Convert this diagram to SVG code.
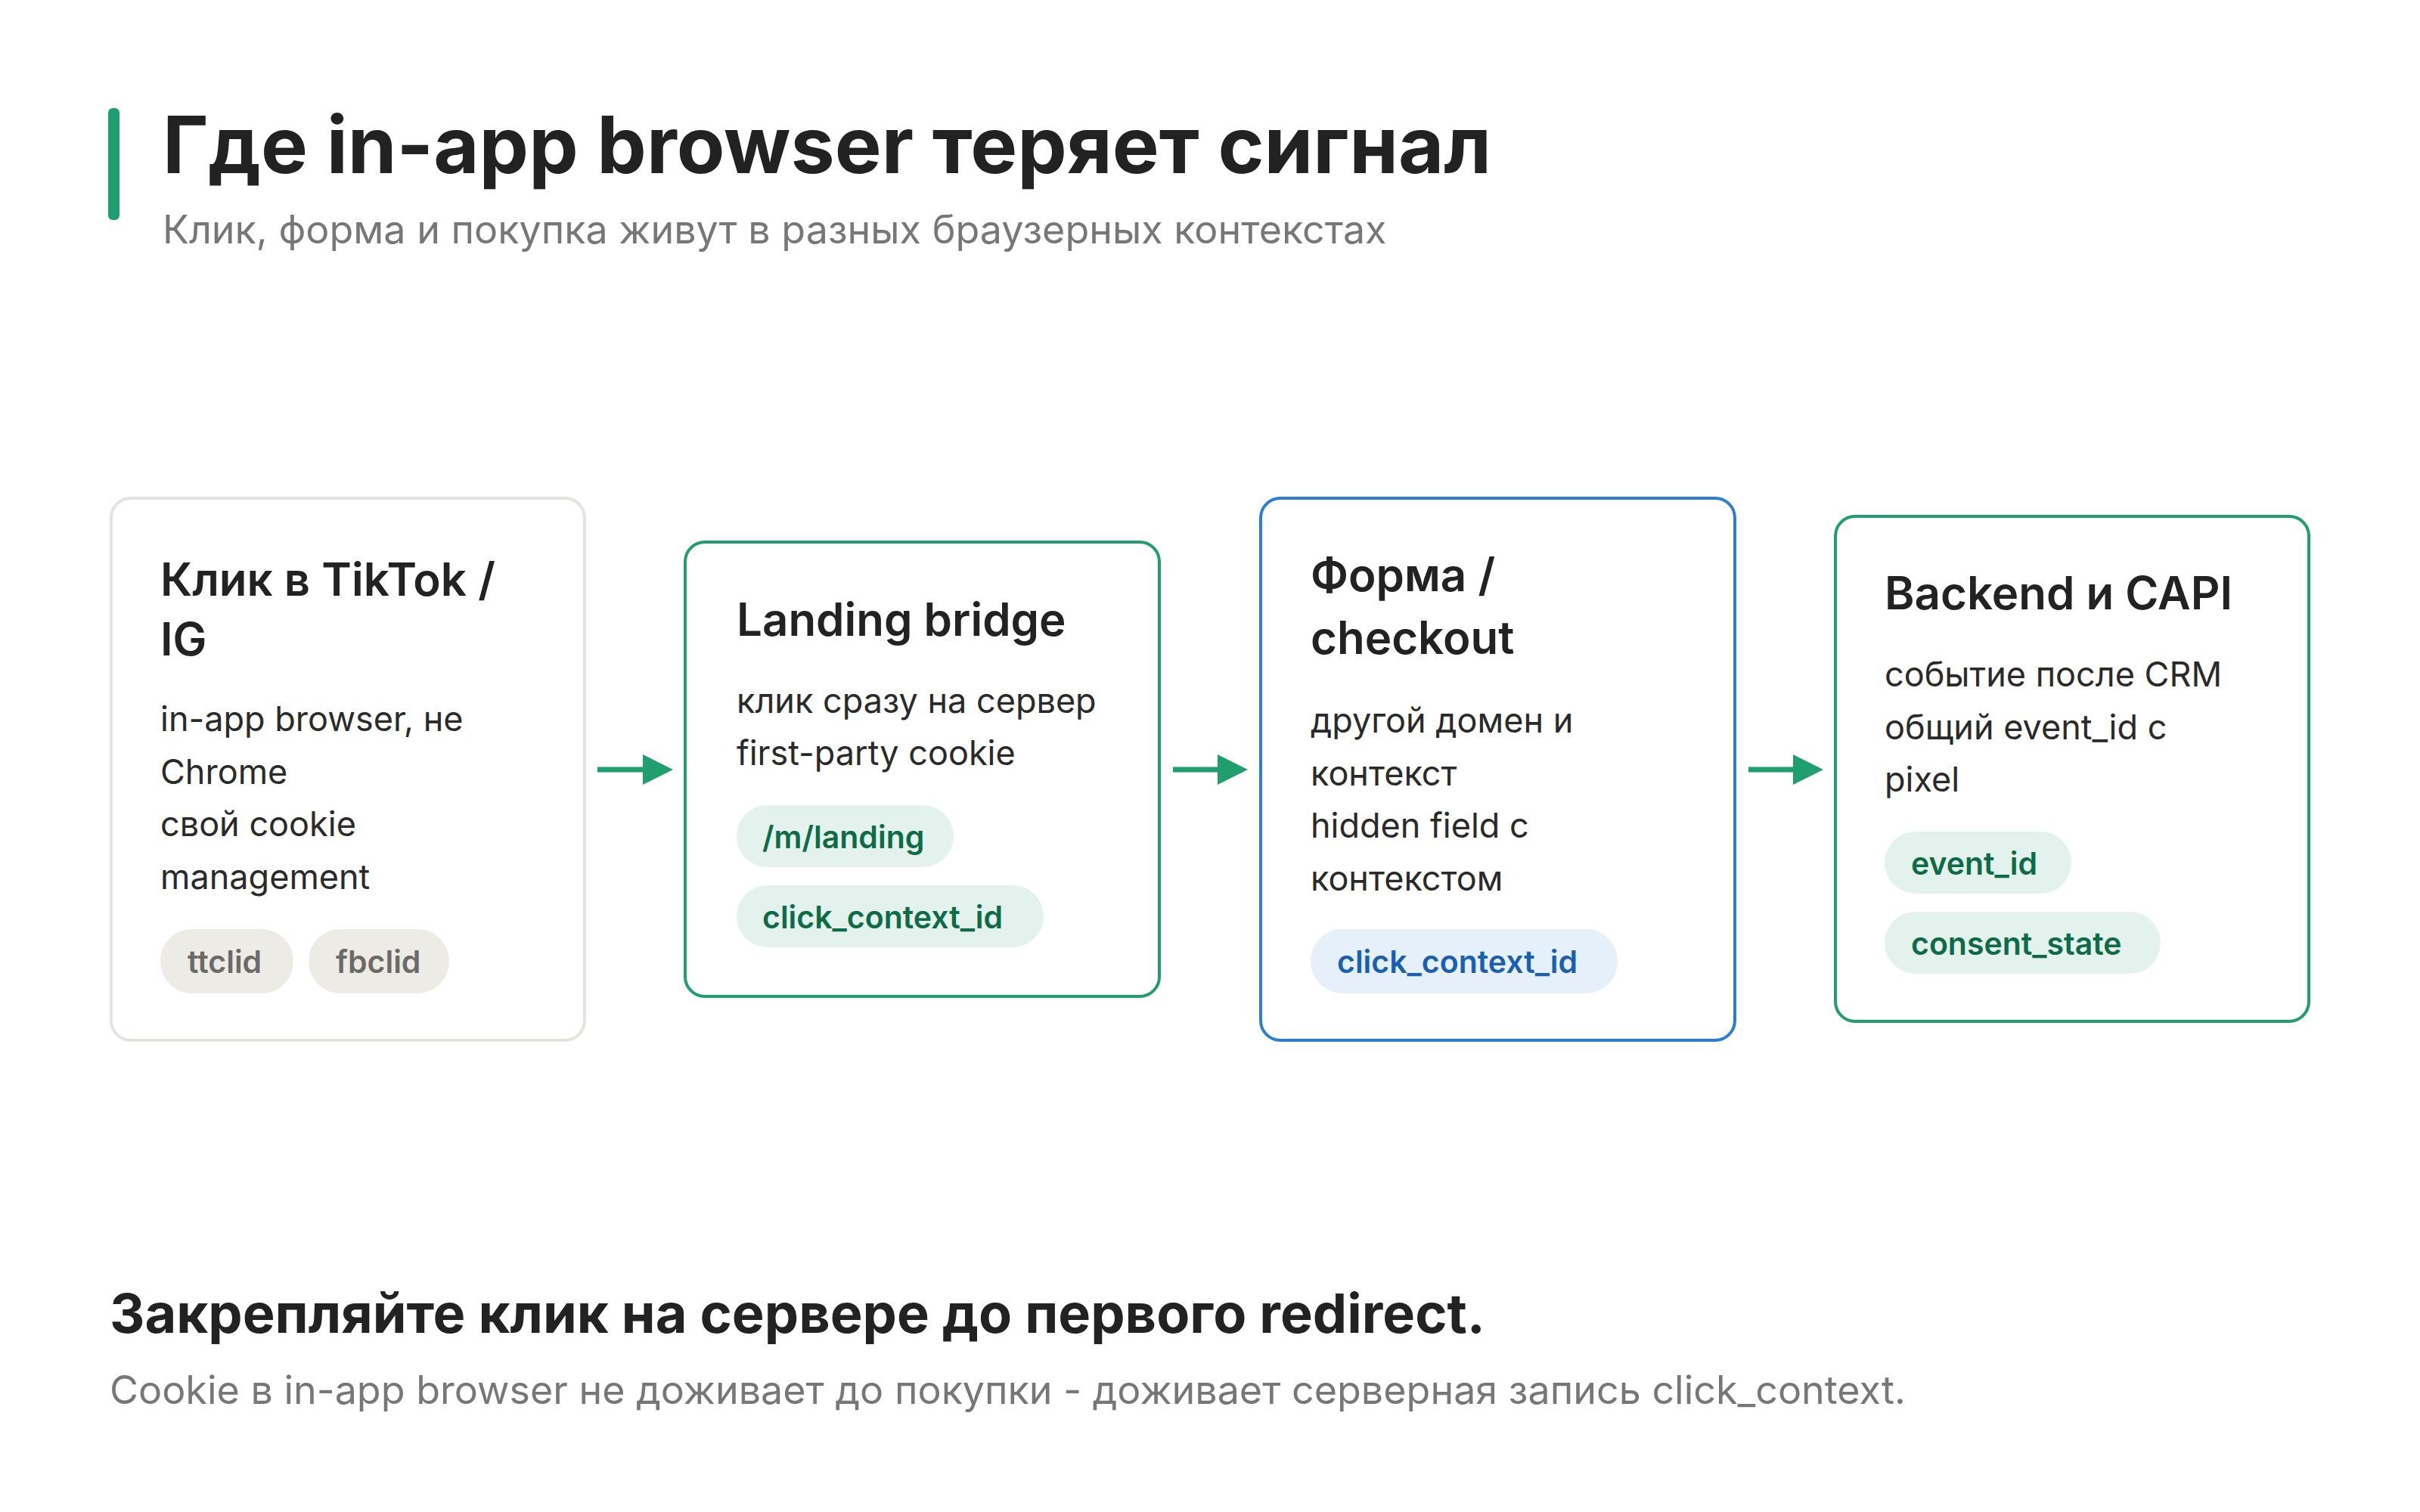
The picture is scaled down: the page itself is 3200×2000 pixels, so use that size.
<svg xmlns="http://www.w3.org/2000/svg" width="3200" height="2000" viewBox="0 0 3200 2000">
<style>
text{font-family:Inter,"Noto Sans",sans-serif}
.t{font-size:60px;font-weight:600;fill:#222}
.b{font-size:45px;fill:#2a2a2a}
.p{font-size:41px;font-weight:600}
.g{fill:#e3f2ec}.gt{fill:#0d6b46}
.bl{fill:#e6f0fb}.blt{fill:#1b5fb0}
.n{fill:#ecebe5}.nt{fill:#6b6a64}
.card{fill:#fff;stroke-width:4}
</style>
<defs><marker id="a" markerWidth="10" markerHeight="10" refX="8" refY="5" orient="auto" markerUnits="userSpaceOnUse" viewBox="0 0 10 10"><path d="M0,0L10,5L0,10z" fill="#1f9e6e"/></marker></defs>
<rect width="3200" height="2000" fill="#fff"/>
<rect x="143" y="143" width="15" height="148" rx="6" fill="#1f9e6e"/>
<text x="215" y="229" font-size="104" font-weight="700" fill="#222">Где in-app browser теряет сигнал</text>
<text x="215" y="322" font-size="52" fill="#777">Клик, форма и покупка живут в разных браузерных контекстах</text>
<g id="connectors" stroke="#1f9e6e" stroke-width="7" fill="none">
<path d="M790 1018H852"/><path d="M1551 1018H1612"/><path d="M2312 1018H2373"/>
<path d="M850 998L890 1018L850 1038z" fill="#1f9e6e" stroke="none"/>
<path d="M1610 998L1650 1018L1610 1038z" fill="#1f9e6e" stroke="none"/>
<path d="M2371 998L2411 1018L2371 1038z" fill="#1f9e6e" stroke="none"/>
</g>
<g id="n1">
<rect class="card" x="147" y="659" width="626" height="717" rx="26" stroke="#e6e3dc"/>
<text class="t" x="212" y="788">Клик в TikTok /</text><text class="t" x="212" y="867">IG</text>
<text class="b" x="212" y="967">in-app browser, не</text><text class="b" x="212" y="1037">Chrome</text><text class="b" x="212" y="1106">свой cookie</text><text class="b" x="212" y="1176">management</text>
<rect class="n" x="212" y="1229" width="176" height="85" rx="42"/><text class="p nt" x="248" y="1287">ttclid</text>
<rect class="n" x="408" y="1229" width="186" height="85" rx="42"/><text class="p nt" x="444" y="1287">fbclid</text>
</g>
<g id="n2">
<rect class="card" x="906" y="717" width="627" height="601" rx="26" stroke="#1f9e6e"/>
<text class="t" x="974" y="841">Landing bridge</text>
<text class="b" x="974" y="943">клик сразу на сервер</text><text class="b" x="974" y="1012">first-party cookie</text>
<rect class="g" x="974" y="1065" width="287" height="82" rx="41"/><text class="p gt" x="1008" y="1122">/m/landing</text>
<rect class="g" x="974" y="1171" width="406" height="82" rx="41"/><text class="p gt" x="1008" y="1228">click_context_id</text>
</g>
<g id="n3">
<rect class="card" x="1667" y="659" width="627" height="717" rx="26" stroke="#2a7fd4"/>
<text class="t" x="1733" y="782">Форма /</text><text class="t" x="1733" y="865">checkout</text>
<text class="b" x="1733" y="969">другой домен и</text><text class="b" x="1733" y="1039">контекст</text><text class="b" x="1733" y="1108">hidden field с</text><text class="b" x="1733" y="1178">контекстом</text>
<rect class="bl" x="1733" y="1229" width="406" height="85" rx="42"/><text class="p blt" x="1768" y="1287">click_context_id</text>
</g>
<g id="n4">
<rect class="card" x="2427" y="683" width="626" height="668" rx="26" stroke="#1f9e6e"/>
<text class="t" x="2492" y="806">Backend и CAPI</text>
<text class="b" x="2492" y="908">событие после CRM</text><text class="b" x="2492" y="978">общий event_id с</text><text class="b" x="2492" y="1047">pixel</text>
<rect class="g" x="2492" y="1100" width="247" height="82" rx="41"/><text class="p gt" x="2527" y="1157">event_id</text>
<rect class="g" x="2492" y="1206" width="365" height="82" rx="41"/><text class="p gt" x="2527" y="1263">consent_state</text>
</g>
<text x="145" y="1763" font-size="72" font-weight="700" fill="#222">Закрепляйте клик на сервере до первого redirect.</text>
<text x="145" y="1857" font-size="52" fill="#777">Cookie в in-app browser не доживает до покупки - доживает серверная запись click_context.</text>
</svg>
